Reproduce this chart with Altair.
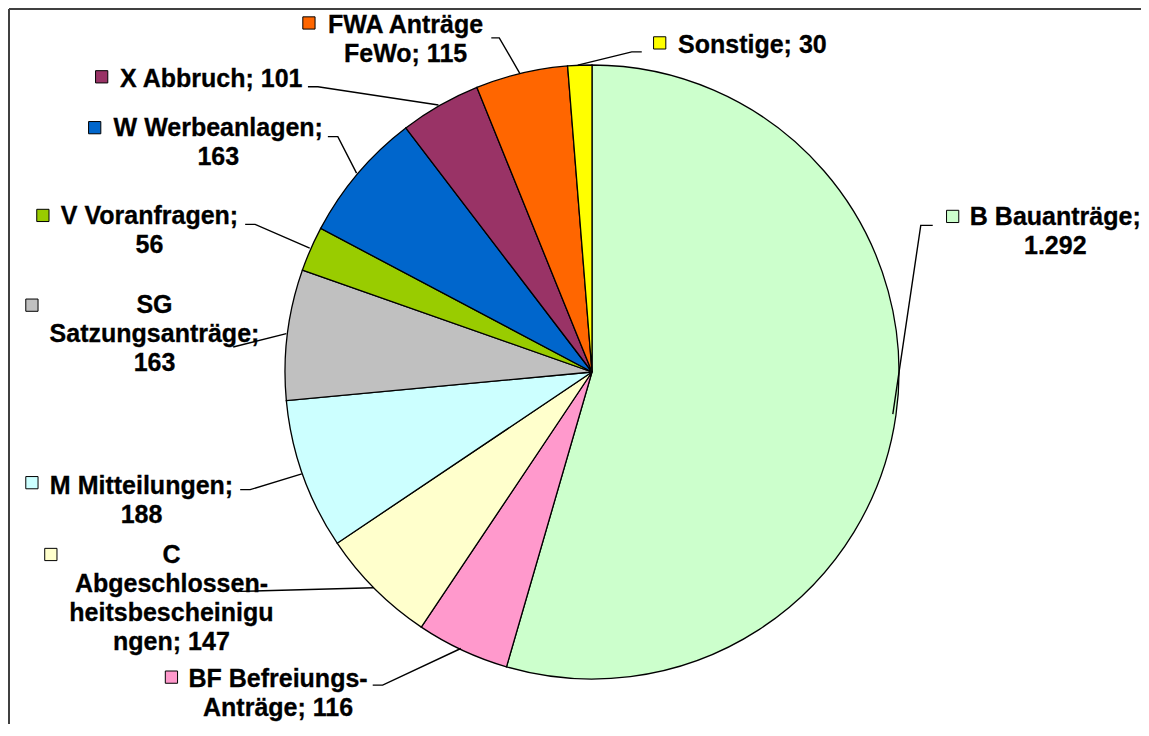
import math
import altair as alt
import pandas as pd

# ---- data ----
categories = ["B Bauanträge", "BF Befreiungs-Anträge", "C Abgeschlossenheitsbescheinigungen",
              "M Mitteilungen", "SG Satzungsanträge", "V Voranfragen", "W Werbeanlagen",
              "X Abbruch", "FWA Anträge FeWo", "Sonstige"]
values = [1292, 116, 147, 188, 163, 56, 163, 101, 115, 30]
colors = ["#CCFFCC", "#FF99CC", "#FFFFCC", "#CCFFFF", "#C0C0C0",
          "#99CC00", "#0066CC", "#993366", "#FF6600", "#FFFF00"]
label_templates = ["B Bauanträge;\n{}", "BF Befreiungs-\nAnträge; {}",
                   "C\nAbgeschlossen-\nheitsbescheinigu\nngen; {}", "M Mitteilungen;\n{}",
                   "SG\nSatzungsanträge;\n{}", "V Voranfragen;\n{}", "W Werbeanlagen;\n{}",
                   "X Abbruch; {}", "FWA Anträge\nFeWo; {}", "Sonstige; {}"]

# ---- layout (page pixel coordinates) ----
W, H = 1133, 716
CX, CY, R = 591, 371, 307
label_cx = [1058, 278, 171, 141, 154, 149, 218, 211, 406, 754]
label_by = [225, 688, 564, 494, 313, 224, 135, 86, 32, 52]
marker_x = [955, 171, 50, 31, 31, 42, 94, 101, 309, 661]
marker_y = [216, 678, 555, 483, 305, 215, 127, 76, 22, 42]
lead_x0 = [935, 373, 240, 240, 233, 245, 328, 308, 492, 643]
lead_y0 = [225, 686, 592, 490, 347, 224, 136, 86, 37, 51]
lead_x1 = [923, 383, 240, 250, 233, 255, 338, 318, 500, 633]
lead_y1 = [225, 686, 592, 490, 347, 224, 136, 86, 37, 51]


def de(n):
    return f"{n:,}".replace(",", ".")


total = sum(values)
df = pd.DataFrame({
    "idx": list(range(len(values))),
    "cat": categories,
    "value": values,
    "label": [t.format(de(v)) for t, v in zip(label_templates, values)],
    "lx": label_cx, "ly": label_by, "mx": marker_x, "my": marker_y,
})

rows = []
cum = 0
for i, v in enumerate(values):
    mid = (cum + v / 2) / total * 2 * math.pi
    cum += v
    ex = CX + R * math.sin(mid)
    ey = CY - R * math.cos(mid)
    for s, (x, y) in enumerate([(lead_x0[i], lead_y0[i]), (lead_x1[i], lead_y1[i]), (ex, ey)]):
        rows.append({"cat": categories[i], "seq": s, "x": x, "y": y})
lead = pd.DataFrame(rows)

xs = alt.Scale(domain=[8, 8 + W], nice=False, zero=False)
ys = alt.Scale(domain=[8, 8 + H], nice=False, zero=False, reverse=True)
fill_scale = alt.Scale(domain=categories, range=colors)

arc = alt.Chart(df).mark_arc(radius=R, stroke="black", strokeWidth=1.3).encode(
    theta=alt.Theta("value:Q", stack=True),
    order=alt.Order("idx:Q"),
    fill=alt.Fill("cat:N", scale=fill_scale, legend=None),
    x=alt.value(CX - 8), y=alt.value(CY - 8),
)

lines = alt.Chart(lead).mark_line(color="black", strokeWidth=1.4).encode(
    x=alt.X("x:Q", scale=xs, axis=None),
    y=alt.Y("y:Q", scale=ys, axis=None),
    detail="cat:N",
    order="seq:Q",
)

markers = alt.Chart(df).mark_square(size=150, filled=True, stroke="black",
                                    strokeWidth=1, opacity=1).encode(
    x=alt.X("mx:Q", scale=xs, axis=None),
    y=alt.Y("my:Q", scale=ys, axis=None),
    fill=alt.Fill("cat:N", scale=fill_scale, legend=None),
)

texts = alt.Chart(df).mark_text(font="Liberation Sans", fontWeight="bold", fontSize=25,
                                lineBreak="\n", lineHeight=29, align="center",
                                baseline="alphabetic", color="black",
                                stroke="black", strokeWidth=0.3).encode(
    x=alt.X("lx:Q", scale=xs, axis=None),
    y=alt.Y("ly:Q", scale=ys, axis=None),
    text="label:N",
)

frame_df = pd.DataFrame({"k": [0]})
frame_left = alt.Chart(frame_df).mark_rule(color="#404040", strokeWidth=2).encode(
    x=alt.value(0), y=alt.value(0), y2=alt.value(H))
frame_top = alt.Chart(frame_df).mark_rule(color="#404040", strokeWidth=2).encode(
    x=alt.value(0), x2=alt.value(W), y=alt.value(0))

chart = alt.layer(arc, lines, markers, texts, frame_left, frame_top).properties(
    width=W, height=H, padding=0,
    autosize=alt.AutoSizeParams(type="fit", contains="padding"),
    background="white",
).configure_view(stroke=None)

chart.save("out.html", embed_options={"renderer": "svg", "actions": False})
